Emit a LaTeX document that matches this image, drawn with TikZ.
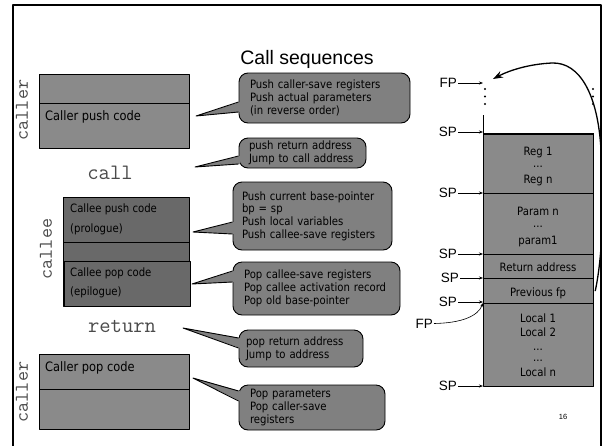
\documentclass[tikz,border=0pt]{standalone}
\usepackage{fontspec}
\setmainfont{Liberation Sans}
\newfontfamily\tahfont{DejaVu Sans}[FakeStretch=0.88]
\usetikzlibrary{arrows.meta,calc}
\definecolor{callergray}{RGB}{138,138,138}
\definecolor{calleegray}{RGB}{105,105,105}
\definecolor{calloutgray}{RGB}{128,128,128}
\definecolor{stackgray}{RGB}{138,138,138}
\definecolor{monogray}{RGB}{75,75,75}
\newcommand\callptr[4]{%
  \fill[calloutgray] (#2) -- ($(#1.west |- 0,#3)+(1.5,0)$) -- ($(#1.west |- 0,#4)+(1.5,0)$) -- cycle;
  \draw[ptrline] (#1.west |- 0,#3) -- (#2) -- (#1.west |- 0,#4);}
\tikzset{
  callerbox/.style={draw, fill=callergray, line width=0.8pt, inner sep=0pt, anchor=north west},
  calleebox/.style={draw, fill=calleegray, line width=0.8pt, inner sep=0pt, anchor=north west},
  boxtext/.style={font=\tahfont\fontsize{13}{15}\selectfont, inner sep=0pt, anchor=base west},
  calleetext/.style={font=\tahfont\fontsize{11.5}{13}\selectfont, inner sep=0pt, anchor=base west},
  callout/.style={draw, fill=calloutgray, line width=0.9pt, rounded corners=9pt, inner ysep=0pt, align=left, font=\tahfont\fontsize{11.5}{12.7}\selectfont},
  ptrline/.style={line width=0.9pt},
  cell/.style={draw, fill=stackgray, line width=1.2pt, minimum width=110pt, inner sep=0pt, anchor=north west},
  celltext/.style={font=\tahfont\fontsize{11.5}{13}\selectfont, inner sep=0pt, anchor=base},
  ptrlabel/.style={font=\fontsize{13.5}{15}\selectfont, inner sep=1pt, anchor=east},
  ptrarrow/.style={line width=0.6pt, -{Stealth[length=4pt,width=3pt]}},
  vlabel/.style={font=\ttfamily\fontsize{19.5}{21}\selectfont, text=monogray, rotate=90, inner sep=0pt},
  monolabel/.style={font=\ttfamily\fontsize{22}{24}\selectfont, text=monogray, inner sep=0pt}
}
\begin{document}
\begin{tikzpicture}[x=1pt, y=-1pt, line join=round]
\useasboundingbox (0,0) rectangle (602,445);
% frame
\draw[line width=2pt] (12.5,446) -- (12.5,5) -- (600.5,5) -- (600.5,446);
% title
\node[font=\fontsize{19.5}{22}\selectfont, inner sep=0pt] (title) at (307,59) {Call sequences};

% left column
\node[callerbox, minimum width=150pt, minimum height=74pt] (cpush) at (39,74) {};
\draw[line width=0.8pt] (cpush.west |- 0,103) -- (cpush.east |- 0,103);
\node[boxtext] (cpusht) at (45,120.5) {Caller push code};
\node[vlabel] (lcaller1) at (22,110) {caller};
\node[monolabel] (call) at (110,172.5) {call};

\node[calleebox, minimum width=126pt, minimum height=109pt] (callee) at (63,197) {};
\draw[line width=0.8pt] (callee.west |- 0,242) -- (callee.east |- 0,242);
\node[calleebox, minimum width=126pt, minimum height=45pt] (cpop) at (64,261) {};
\node[calleetext] (t1) at (70,212.5) {Callee push code};
\node[calleetext] (t2) at (70,232) {(prologue)};
\node[calleetext] (t3) at (70,276) {Callee pop code};
\node[calleetext] (t4) at (70,295) {(epilogue)};
\node[vlabel] (lcallee) at (46,249) {callee};
\node[monolabel] (ret) at (122,326.5) {return};

\node[callerbox, minimum width=150pt, minimum height=75pt] (cpopc) at (39,354) {};
\draw[line width=0.8pt] (cpopc.west |- 0,389) -- (cpopc.east |- 0,389);
\node[boxtext] (cpopt) at (45,371) {Caller pop code};
\node[vlabel] (lcaller2) at (22,392) {caller};

% callouts
\node[callout, minimum height=50pt, inner xsep=11pt, text width=149pt] (c1) at (324.5,98)
  {Push caller-save registers\\Push actual parameters\\(in reverse order)};
\node[callout, minimum height=30pt, inner xsep=10pt, text width=107pt] (c2) at (302.5,153)
  {push return address\\Jump to call address};
\node[callout, minimum height=68pt, inner xsep=9pt, text width=141pt] (c3) at (312.5,216)
  {Push current base-pointer\\bp = sp\\Push local variables\\Push callee-save registers};
\node[callout, minimum height=53pt, inner xsep=11pt, text width=145pt] (c4) at (316.5,288.5)
  {Pop callee-save registers\\Pop callee activation record\\Pop old base-pointer};
\node[callout, minimum height=37pt, inner xsep=7pt, text width=110pt] (c5) at (301,348.5)
  {pop return address\\Jump to address};
\node[callout, minimum height=45pt, inner xsep=11pt, text width=124pt] (c6) at (312,407.5)
  {Pop parameters\\Pop caller-save\\registers};
\callptr{c1}{196,116}{102}{112}
\callptr{c2}{195,167}{156}{164}
\callptr{c3}{193,232}{222}{234}
\callptr{c4}{192,284}{271}{282}
\callptr{c5}{183,328}{338}{348}
\callptr{c6}{193,378}{391}{401}

% stack
\node[cell, minimum height=59pt] (reg) at (483,134) {};
\node[cell, minimum height=61pt] (param) at (483,193) {};
\node[cell, minimum height=24pt] (retc) at (483,254) {};
\node[cell, minimum height=25pt] (pfp) at (483,278) {};
\node[cell, minimum height=83pt] (loc) at (483,303) {};
\draw[line width=2pt] (reg.north west) -- (reg.north east);
\draw[line width=0.8pt] (reg.north west) -- ++(0,-19);
\foreach \yy in {89,96.5,104} {
  \fill (485,\yy) circle (1.2pt);
  \fill (593,\yy) circle (1.2pt);
}
\node[celltext] (s1) at (538,155) {Reg 1};
\node[celltext] (s2) at (538,167) {...};
\node[celltext] (s3) at (538,183) {Reg n};
\node[celltext] (s4) at (538,215.5) {Param n};
\node[celltext] (s5) at (538,227.5) {...};
\node[celltext] (s6) at (538,244) {param1};
\node[celltext] (s7) at (538,271) {Return address};
\node[celltext] (s8) at (538,296.5) {Previous fp};
\node[celltext] (s9) at (538,322.5) {Local 1};
\node[celltext] (s10) at (538,336.5) {Local 2};
\node[celltext] (s11) at (538,350) {...};
\node[celltext] (s12) at (538,361) {...};
\node[celltext] (s13) at (538,376) {Local n};

% pointers
\node[ptrlabel] (fpt) at (458,83) {FP};
\draw[ptrarrow] (fpt.east) -- (fpt.east -| reg.west);
\node[ptrlabel] (sp1) at (458,132) {SP};
\draw[ptrarrow] (sp1.east) -- (sp1.east -| reg.west);
\node[ptrlabel] (sp2) at (458,193) {SP};
\draw[ptrarrow] (sp2.east) -- (sp2.east -| reg.west);
\node[ptrlabel] (sp3) at (458,254) {SP};
\draw[ptrarrow] (sp3.east) -- (sp3.east -| reg.west);
\node[ptrlabel] (sp4) at (460,278) {SP};
\draw[ptrarrow] (sp4.east) -- (sp4.east -| reg.west);
\node[ptrlabel] (sp5) at (458,302) {SP};
\draw[ptrarrow] (sp5.east) -- (sp5.east -| reg.west);
\node[ptrlabel] (sp6) at (458,386) {SP};
\draw[ptrarrow] (sp6.east) -- (sp6.east -| reg.west);
\node[ptrlabel] (fpb) at (434,323.5) {FP};
\draw[ptrarrow] (fpb.east) .. controls (462,323) and (478,316) .. (loc.north west);

\coordinate (fptop) at (493,79);
\draw[line width=1.3pt, -{Stealth[length=10pt,width=7pt]}] ($(pfp.east)+(1,0)$)
  .. controls (604,250) and (603,195) .. (601,150)
  .. controls (598,95) and (580,62) .. (552,63)
  .. controls (530,64) and (510,70) .. (fptop);

\node[font=\fontsize{7.5}{9}\selectfont, inner sep=0pt] (pg) at (563,417) {16};
\end{tikzpicture}
\end{document}
